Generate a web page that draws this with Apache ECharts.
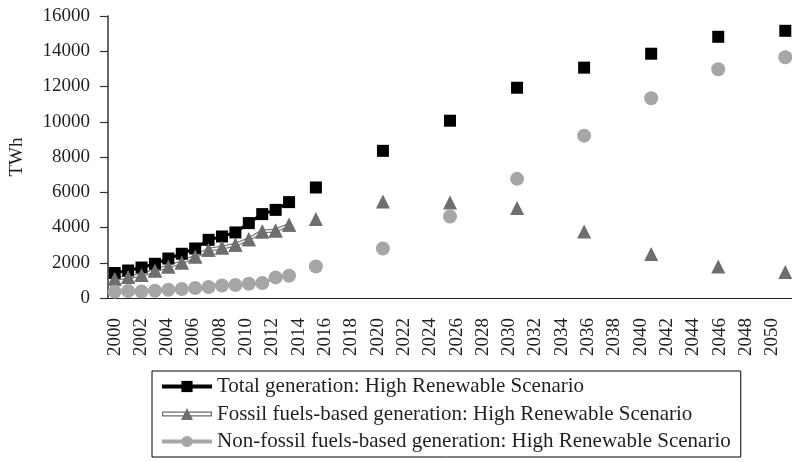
<!DOCTYPE html>
<html>
<head>
<meta charset="utf-8">
<script src="https://cdn.jsdelivr.net/npm/echarts@6/dist/echarts.min.js"></script>
<style>
  html, body { margin: 0; padding: 0; background: #fff; }
  #chart { width: 792px; height: 462px; }
</style>
</head>
<body>
<div id="chart"></div>
<script>
// tick labels for the year axis (2051 only closes the last band)
const yearLabels = ['2000', '2001', '2002', '2003', '2004', '2005', '2006', '2007', '2008', '2009',
  '2010', '2011', '2012', '2013', '2014', '2015', '2016', '2017', '2018', '2019',
  '2020', '2021', '2022', '2023', '2024', '2025', '2026', '2027', '2028', '2029',
  '2030', '2031', '2032', '2033', '2034', '2035', '2036', '2037', '2038', '2039',
  '2040', '2041', '2042', '2043', '2044', '2045', '2046', '2047', '2048', '2049',
  '2050', '2051'];

// historical years (joined by a line)
const histYears = [2000, 2001, 2002, 2003, 2004, 2005, 2006, 2007, 2008, 2009, 2010, 2011, 2012, 2013];
const totalHist = [1420, 1560, 1730, 1940, 2240, 2510, 2810, 3300, 3490, 3720, 4250, 4760, 5000, 5440];
const fossilHist = [1090, 1190, 1300, 1560, 1790, 2020, 2360, 2740, 2870, 3020, 3340, 3770, 3830, 4150];
const nonFossilHist = [360, 400, 370, 410, 470, 510, 570, 620, 710, 740, 810, 850, 1170, 1260];

// scenario years (markers only)
const projYears = [2015, 2020, 2025, 2030, 2035, 2040, 2045, 2050];
const totalProj = [6270, 8350, 10060, 11930, 13070, 13860, 14820, 15160];
const fossilProj = [4480, 5480, 5420, 5100, 3770, 2490, 1790, 1470];
const nonFossilProj = [1790, 2810, 4620, 6760, 9210, 11330, 12980, 13660];

const NAME_TOTAL = 'Total generation: High Renewable Scenario';
const NAME_FOSSIL = 'Fossil fuels-based generation: High Renewable Scenario';
const NAME_NONFOSSIL = 'Non-fossil fuels-based generation: High Renewable Scenario';

const FONT = 'Liberation Serif';
const TEXT_COLOR = '#231f20';

function pairs(xs, ys) {
  return xs.map((x, i) => [x, ys[i]]);
}

const chart = echarts.init(document.getElementById('chart'), null, { renderer: 'canvas' });

const option = {
  backgroundColor: '#fff',
  animation: false,
  grid: { left: 104, right: 0, top: 16, bottom: 164 },
  legend: {
    orient: 'vertical',
    left: 152,
    top: 371,
    padding: [5, 10, 5, 8],
    borderColor: '#000',
    borderWidth: 1,
    itemWidth: 50,
    itemHeight: 14,
    itemGap: 6.5,
    textStyle: { fontFamily: FONT, fontSize: 21, color: TEXT_COLOR },
    data: [
      { name: NAME_TOTAL, lineStyle: { width: 4 } },
      // hollow double line with a triangle
      { name: NAME_FOSSIL, icon: 'path://M0 4.5L50 4.5L50 9.5L0 9.5ZM1.2 5.7L1.2 8.3L48.8 8.3L48.8 5.7ZM25 1L31 13L19 13Z' },
      { name: NAME_NONFOSSIL, lineStyle: { width: 4 } }
    ]
  },
  xAxis: [
    {
      type: 'category',
      data: yearLabels,
      boundaryGap: true,
      axisLine: { lineStyle: { color: '#222', width: 1.2 } },
      axisTick: { interval: 1, length: 7, lineStyle: { color: '#222', width: 1.2 } },
      axisLabel: {
        interval: 1,
        rotate: 90,
        margin: 20,
        fontFamily: FONT,
        fontSize: 19,
        color: TEXT_COLOR
      },
      splitLine: { show: false }
    },
    {
      type: 'value',
      min: 1999.5,
      max: 2050.5,
      show: false
    }
  ],
  yAxis: {
    type: 'value',
    min: 0,
    max: 16000,
    interval: 2000,
    name: 'TWh',
    nameLocation: 'middle',
    nameRotate: 90,
    nameGap: 81,
    nameTextStyle: { fontFamily: FONT, fontSize: 19, color: TEXT_COLOR },
    axisLine: { show: true, lineStyle: { color: '#333', width: 1.5 } },
    axisTick: { show: true, length: 8, lineStyle: { color: '#333', width: 1.2 } },
    axisLabel: {
      margin: 18,
      fontFamily: FONT,
      fontSize: 19,
      color: TEXT_COLOR,
      formatter: (v) => String(v)
    },
    splitLine: { show: false }
  },
  series: [
    {
      name: NAME_TOTAL,
      type: 'line',
      xAxisIndex: 1,
      data: pairs(histYears, totalHist),
      symbol: 'rect',
      symbolSize: 12,
      itemStyle: { color: '#000' },
      lineStyle: { color: '#000', width: 3 }
    },
    {
      name: NAME_FOSSIL,
      type: 'line',
      xAxisIndex: 1,
      data: pairs(histYears, fossilHist),
      symbol: 'triangle',
      symbolSize: 14,
      itemStyle: { color: '#6e6e6e' },
      lineStyle: { color: '#7a7a7a', width: 4 }
    },
    {
      // white core of the double line
      type: 'line',
      xAxisIndex: 1,
      data: pairs(histYears, fossilHist),
      symbol: 'none',
      silent: true,
      lineStyle: { color: '#fff', width: 1.5 }
    },
    {
      type: 'scatter',
      xAxisIndex: 1,
      data: pairs(histYears, fossilHist),
      symbol: 'triangle',
      symbolSize: 14,
      silent: true,
      itemStyle: { color: '#6e6e6e', opacity: 1 }
    },
    {
      name: NAME_NONFOSSIL,
      type: 'line',
      xAxisIndex: 1,
      data: pairs(histYears, nonFossilHist),
      symbol: 'circle',
      symbolSize: 14,
      itemStyle: { color: '#a6a6a6' },
      lineStyle: { color: '#a6a6a6', width: 3 }
    },
    {
      type: 'scatter',
      xAxisIndex: 1,
      data: pairs(projYears, totalProj),
      symbol: 'rect',
      symbolSize: 12,
      itemStyle: { color: '#000', opacity: 1 }
    },
    {
      type: 'scatter',
      xAxisIndex: 1,
      data: pairs(projYears, fossilProj),
      symbol: 'triangle',
      symbolSize: 14,
      itemStyle: { color: '#6e6e6e', opacity: 1 }
    },
    {
      type: 'scatter',
      xAxisIndex: 1,
      data: pairs(projYears, nonFossilProj),
      symbol: 'circle',
      symbolSize: 14,
      itemStyle: { color: '#a6a6a6', opacity: 1 }
    }
  ]
};

chart.setOption(option);
</script>
</body>
</html>
